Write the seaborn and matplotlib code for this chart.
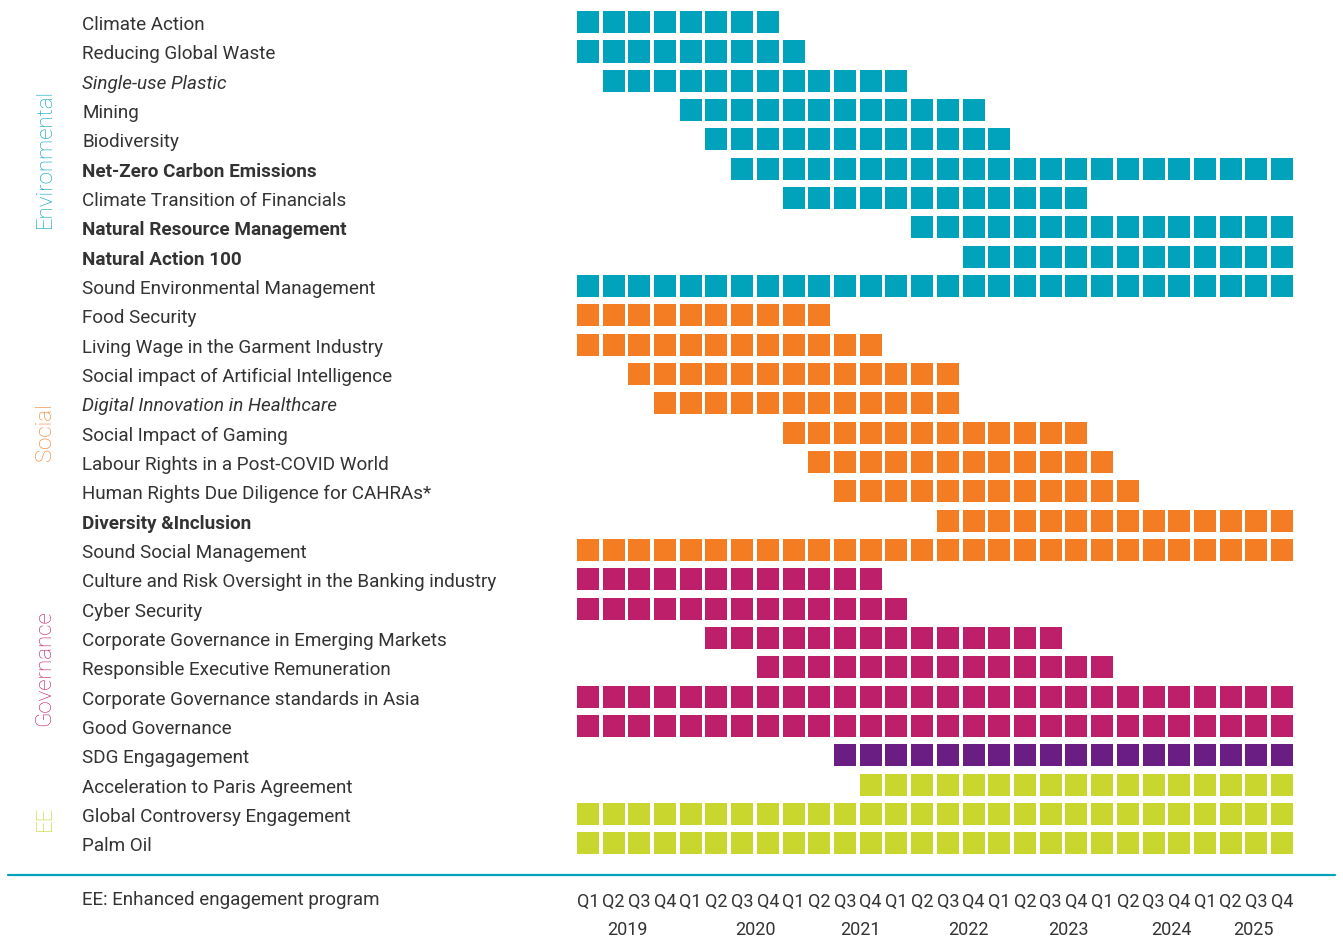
import matplotlib
matplotlib.use("Agg")
import matplotlib.pyplot as plt
import matplotlib.transforms as mtransforms
import seaborn as sns
import pandas as pd

# ---------------- data ----------------
topics = [
    "Climate Action", "Reducing Global Waste", "Single-use Plastic", "Mining",
    "Biodiversity", "Net-Zero Carbon Emissions", "Climate Transition of Financials",
    "Natural Resource Management", "Natural Action 100", "Sound Environmental Management",
    "Food Security", "Living Wage in the Garment Industry",
    "Social impact of Artificial Intelligence", "Digital Innovation in Healthcare",
    "Social Impact of Gaming", "Labour Rights in a Post-COVID World",
    "Human Rights Due Diligence for CAHRAs*", "Diversity &Inclusion",
    "Sound Social Management", "Culture and Risk Oversight in the Banking industry",
    "Cyber Security", "Corporate Governance in Emerging Markets",
    "Responsible Executive Remuneration", "Corporate Governance standards in Asia",
    "Good Governance", "SDG Engagagement", "Acceleration to Paris Agreement",
    "Global Controversy Engagement", "Palm Oil",
]
start_q = [0, 0, 1, 4, 5, 6, 8, 13, 15, 0,
           0, 0, 2, 3, 8, 9, 10, 14, 0,
           0, 0, 5, 7, 0, 0, 10,
           11, 0, 0]
end_q = [7, 8, 12, 15, 16, 27, 19, 27, 27, 27,
         9, 11, 14, 14, 19, 20, 21, 27, 27,
         11, 12, 18, 20, 27, 27, 27,
         27, 27, 27]
series = (["Environmental"] * 10 + ["Social"] * 9 + ["Governance"] * 6
          + ["SDG"] + ["EE"] * 3)
quarters = ["Q1", "Q2", "Q3", "Q4"] * 7
years = ["2019", "2020", "2021", "2022", "2023", "2024", "2025"]
group_names = ["Environmental", "Social", "Governance", "EE"]

# ---------------- styles / layout ----------------
bold_topics = {"Net-Zero Carbon Emissions", "Natural Resource Management",
               "Natural Action 100", "Diversity &Inclusion"}
italic_topics = {"Single-use Plastic", "Digital Innovation in Healthcare"}
palette = {"Environmental": "#00A3BB", "Social": "#F47C22",
           "Governance": "#BE1F6B", "SDG": "#6A1E83", "EE": "#C8D62E"}
group_label_y_px = [158, 432, 668, 818]
year_label_pos = [1.55, 6.5, 10.6, 14.8, 18.7, 22.7, 25.9]

W, H = 1343, 940
rows = []
for i, (t, s0, e0, g) in enumerate(zip(topics, start_q, end_q, series)):
    for q in range(s0, e0 + 1):
        rows.append({"topic": t, "row": i, "q": q, "group": g})
df = pd.DataFrame(rows)

sns.set_theme(style="white")
plt.rcParams["font.family"] = ["Roboto", "DejaVu Sans"]

fig = plt.figure(figsize=(W / 100, H / 100), dpi=100)
left_px, right_px = 575, 1295
top_px, bot_px = 7.5, 858
ax = fig.add_axes([left_px / W, 1 - bot_px / H, (right_px - left_px) / W,
                   (bot_px - top_px) / H])

sns.scatterplot(data=df, x="q", y="row", hue="group", palette=palette,
                marker="s", s=252, linewidth=0, legend=False, ax=ax)
ax.set_xlim(-0.5, 27.5)
ax.set_ylim(len(topics) - 0.5, -0.5)
ax.set_xlabel("")
ax.set_ylabel("")
ax.set_yticks([])
txt_color = "#333333"
ax.set_xticks(range(len(quarters)))
ax.set_xticklabels(quarters, fontsize=13, color=txt_color, fontweight="normal")
ax.tick_params(axis="x", length=0, pad=25)
for sp in ax.spines.values():
    sp.set_visible(False)

blend_y = mtransforms.blended_transform_factory(fig.transFigure, ax.transData)
for i, t in enumerate(topics):
    weight = "bold" if t in bold_topics else "normal"
    style = "italic" if t in italic_topics else "normal"
    ax.text(82 / W, i + 0.1, t, transform=blend_y, ha="left", va="center",
            fontsize=13.6, fontweight=weight, fontstyle=style, color=txt_color)

gcolors = [palette["Environmental"], palette["Social"], palette["Governance"], palette["EE"]]
for name, ypx, c in zip(group_names, group_label_y_px, gcolors):
    fig.text(45 / W, 1 - ypx / H, name, rotation=90, ha="center", va="center",
             fontsize=16, fontweight="light", color=c)

# separator line
fig.add_artist(plt.Line2D([8 / W, 1335 / W], [1 - 875 / H, 1 - 875 / H],
                          color="#00A3BB", linewidth=1.6))

fig.text(82 / W, 1 - 900 / H, "EE: Enhanced engagement program", ha="left",
         va="center", fontsize=13.5, fontweight="normal", color=txt_color)

blend_x = mtransforms.blended_transform_factory(ax.transData, fig.transFigure)
for yr, pos in zip(years, year_label_pos):
    ax.text(pos, 1 - 930 / H, yr, transform=blend_x, ha="center", va="center",
            fontsize=13, fontweight="normal", color=txt_color)

fig.savefig("out.png", dpi=100, facecolor="white")
